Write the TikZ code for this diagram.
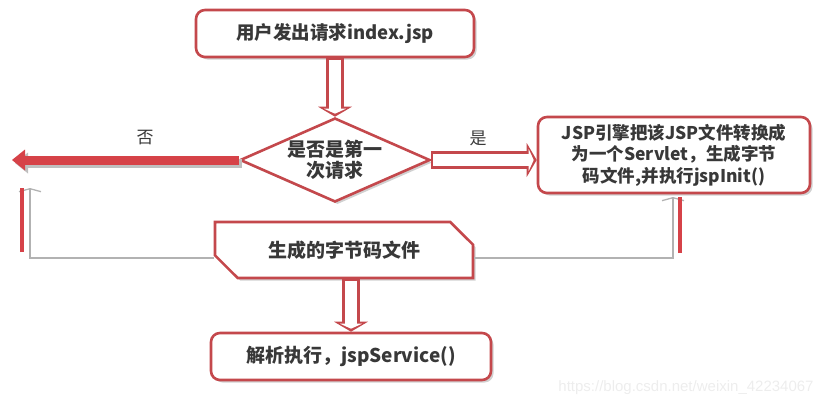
\documentclass[tikz,border=0pt]{standalone}
\usepackage{fontspec}
\setmainfont{Noto Sans CJK SC}
\newfontfamily\urlfont{Liberation Sans}
\usetikzlibrary{shapes.geometric}
\usetikzlibrary{shapes.misc}
\usetikzlibrary{arrows.meta}
\usetikzlibrary{shadows}
\usepackage{xcolor}
\definecolor{boxred}{RGB}{196,72,76}
\definecolor{barred}{RGB}{214,66,72}
\definecolor{ink}{RGB}{56,56,56}

\tikzset{
  boxshadow/.style={drop shadow={shadow xshift=2.5pt,shadow yshift=-2.5pt,fill=black!30,opacity=.6}},
  box/.style={rounded corners=9pt,draw=boxred,line width=2.6pt,fill=white,text=ink,align=center,
    font=\bfseries\fontsize{18.5}{22}\selectfont,boxshadow},
  decision/.style={diamond,aspect=2.26,draw=boxred,line width=2.6pt,fill=white,text=ink,align=center,inner sep=0pt,
    font=\bfseries\fontsize{19}{20.5}\selectfont,boxshadow},
  snipbox/.style={chamfered rectangle,chamfered rectangle corners={north east,south west},
    chamfered rectangle xsep=24pt,chamfered rectangle ysep=10pt,draw=boxred,line width=2.6pt,fill=white,
    text=ink,font=\bfseries\fontsize{19}{22}\selectfont,boxshadow},
  lbl/.style={text=ink,font=\fontsize{17}{17}\selectfont},
  hollow/.style={draw=boxred,line width=18pt,-{Triangle[length=10pt,width=34pt,line width=0pt]},
    postaction={draw=white,line width=12pt,shorten <=1.5pt,shorten >=3pt,-{Triangle[length=5pt,width=22pt,line width=0pt]}}},
  bigbar/.style={draw=barred,line width=9pt,-{Triangle[length=13pt,width=21pt,line width=0pt]}},
  barshade/.style={draw=black!25,line width=9pt,-{Triangle[length=13pt,width=21pt,line width=0pt]}},
  redline/.style={draw=barred,line width=4pt},
  greyline/.style={draw=black!30,line width=1.3pt,-{Straight Barb[length=3pt,width=22pt]}}
}

\begin{document}
\begin{tikzpicture}[x=1pt,y=-1pt]
\useasboundingbox (0,0) rectangle (831,407);

% boxes
\node [box,minimum width=278pt,minimum height=47pt] (req) at (335,33.5) {用户发出请求index.jsp};
\node [decision,minimum width=190pt,minimum height=84pt] (first) at (335,160) {是否是第一\\次请求};
\node [box,minimum width=272pt,minimum height=76pt,font=\bfseries\fontsize{17.5}{21.5}\selectfont] (jsp) at (674,155)
  {JSP引擎把该JSP文件转换成\\为一个Servlet，生成字节\\码文件,并执行jspInit()};
\node [snipbox,minimum width=258pt,minimum height=56pt] (bytecode) at (344,250) {生成的字节码文件};
\node [box,minimum width=280pt,minimum height=47pt,font=\bfseries\fontsize{19}{22}\selectfont] (exec) at (351,356.5)
  {解析执行，jspService()};

% labels
\node [lbl] (no) at (145,138) {否};
\node [lbl] (yes) at (478,138) {是};

% arrows
\coordinate (noEnd) at (12,160);
\coordinate (upR) at (680,197);
\coordinate (upL) at (22,188);

\draw [hollow] (req.south) -- (first.north);
\draw [hollow] (first.east) -- (first.east -| jsp.west);
\draw [hollow] (exec.north |- bytecode.south) -- (exec.north);

\draw [barshade] ([xshift=3pt,yshift=-3pt]first.west) -- ([xshift=3pt,yshift=-3pt]noEnd);
\draw [bigbar] (first.west) -- (noEnd);

\draw [greyline] ([yshift=-8pt]bytecode.east) -| ([xshift=-7pt]upR);
\draw [redline] ([yshift=-3pt]upR |- bytecode.east) -- (upR);
\draw [greyline] ([yshift=-8pt]bytecode.west) -| ([xshift=8pt]upL);
\draw [redline] ([yshift=-2pt]upL |- bytecode.west) -- (upL);

% watermark
\node [font=\urlfont\fontsize{15}{15}\selectfont,text=black!7] (mark) at (686,388) {https://blog.csdn.net/weixin\_42234067};
\end{tikzpicture}
\end{document}
